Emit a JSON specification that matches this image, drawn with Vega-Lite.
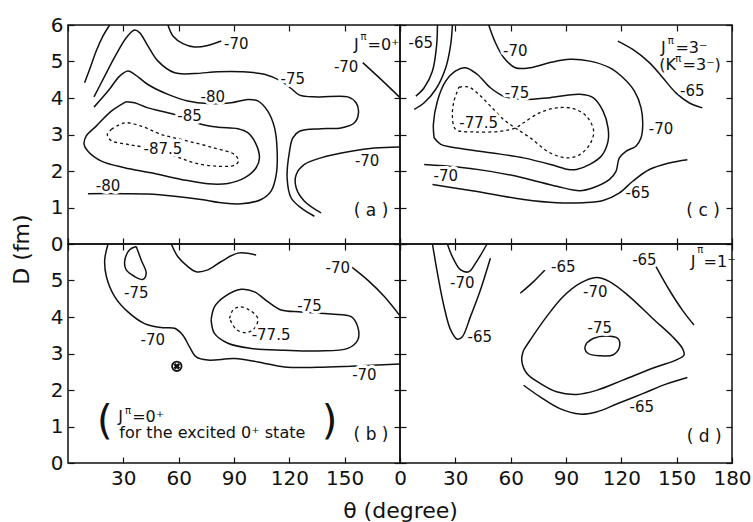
{
  "$schema": "https://vega.github.io/schema/vega-lite/v6.json",
  "padding": {"left": 9, "top": 14, "right": 5, "bottom": 0},
  "spacing": 0,
  "bounds": "flush",
  "columns": 2,
  "datasets": {
    "contours": [
      {"panel":"a","id":"a1","level":-70,"i":0,"theta":9.0,"D":4.42},
      {"panel":"a","id":"a1","level":-70,"i":1,"theta":11.7,"D":4.78},
      {"panel":"a","id":"a1","level":-70,"i":2,"theta":15.3,"D":5.29},
      {"panel":"a","id":"a1","level":-70,"i":3,"theta":19.0,"D":5.70},
      {"panel":"a","id":"a1","level":-70,"i":4,"theta":22.6,"D":6.0},
      {"panel":"a","id":"a2","level":-70,"i":0,"theta":54.2,"D":6.0},
      {"panel":"a","id":"a2","level":-70,"i":1,"theta":56.9,"D":5.70},
      {"panel":"a","id":"a2","level":-70,"i":2,"theta":62.3,"D":5.49},
      {"panel":"a","id":"a2","level":-70,"i":3,"theta":68.6,"D":5.40},
      {"panel":"a","id":"a2","level":-70,"i":4,"theta":75.8,"D":5.44},
      {"panel":"a","id":"a2","level":-70,"i":5,"theta":83.1,"D":5.56},
      {"panel":"a","id":"a3","level":-75,"i":0,"theta":14.1,"D":4.03},
      {"panel":"a","id":"a3","level":-75,"i":1,"theta":19.9,"D":4.60},
      {"panel":"a","id":"a3","level":-75,"i":2,"theta":26.2,"D":5.20},
      {"panel":"a","id":"a3","level":-75,"i":3,"theta":31.6,"D":5.65},
      {"panel":"a","id":"a3","level":-75,"i":4,"theta":36.1,"D":5.86},
      {"panel":"a","id":"a3","level":-75,"i":5,"theta":38.8,"D":5.79},
      {"panel":"a","id":"a3","level":-75,"i":6,"theta":43.3,"D":5.43},
      {"panel":"a","id":"a3","level":-75,"i":7,"theta":48.8,"D":5.01},
      {"panel":"a","id":"a3","level":-75,"i":8,"theta":57.8,"D":4.69},
      {"panel":"a","id":"a3","level":-75,"i":9,"theta":68.6,"D":4.67},
      {"panel":"a","id":"a3","level":-75,"i":10,"theta":81.3,"D":4.72},
      {"panel":"a","id":"a3","level":-75,"i":11,"theta":93.9,"D":4.72},
      {"panel":"a","id":"a3","level":-75,"i":12,"theta":106.5,"D":4.65},
      {"panel":"a","id":"a3","level":-75,"i":13,"theta":115.6,"D":4.46},
      {"panel":"a","id":"a3","level":-75,"i":14,"theta":121,"D":4.26},
      {"panel":"a","id":"a3","level":-75,"i":15,"theta":125.5,"D":4.08},
      {"panel":"a","id":"a3","level":-75,"i":16,"theta":135.4,"D":4.03},
      {"panel":"a","id":"a3","level":-75,"i":17,"theta":151.7,"D":4.03},
      {"panel":"a","id":"a3","level":-75,"i":18,"theta":156.2,"D":3.87},
      {"panel":"a","id":"a3","level":-75,"i":19,"theta":157.5,"D":3.60},
      {"panel":"a","id":"a3","level":-75,"i":20,"theta":155.3,"D":3.32},
      {"panel":"a","id":"a3","level":-75,"i":21,"theta":148.1,"D":3.18},
      {"panel":"a","id":"a3","level":-75,"i":22,"theta":137.2,"D":3.16},
      {"panel":"a","id":"a3","level":-75,"i":23,"theta":125.5,"D":3.09},
      {"panel":"a","id":"a3","level":-75,"i":24,"theta":121.9,"D":2.91},
      {"panel":"a","id":"a3","level":-75,"i":25,"theta":120.1,"D":2.54},
      {"panel":"a","id":"a3","level":-75,"i":26,"theta":118.8,"D":1.81},
      {"panel":"a","id":"a3","level":-75,"i":27,"theta":121,"D":1.26},
      {"panel":"a","id":"a3","level":-75,"i":28,"theta":126.4,"D":0.99},
      {"panel":"a","id":"a3","level":-75,"i":29,"theta":133.6,"D":0.76},
      {"panel":"a","id":"a4","level":-80,"i":0,"theta":14.1,"D":3.75},
      {"panel":"a","id":"a4","level":-80,"i":1,"theta":21.7,"D":4.19},
      {"panel":"a","id":"a4","level":-80,"i":2,"theta":28.0,"D":4.60},
      {"panel":"a","id":"a4","level":-80,"i":3,"theta":32.5,"D":4.74},
      {"panel":"a","id":"a4","level":-80,"i":4,"theta":36.1,"D":4.65},
      {"panel":"a","id":"a4","level":-80,"i":5,"theta":43.3,"D":4.37},
      {"panel":"a","id":"a4","level":-80,"i":6,"theta":54.2,"D":4.10},
      {"panel":"a","id":"a4","level":-80,"i":7,"theta":65.0,"D":3.92},
      {"panel":"a","id":"a4","level":-80,"i":8,"theta":75.8,"D":3.85},
      {"panel":"a","id":"a4","level":-80,"i":9,"theta":88.5,"D":3.87},
      {"panel":"a","id":"a4","level":-80,"i":10,"theta":97.5,"D":3.96},
      {"panel":"a","id":"a4","level":-80,"i":11,"theta":102.9,"D":3.92},
      {"panel":"a","id":"a4","level":-80,"i":12,"theta":108.3,"D":3.64},
      {"panel":"a","id":"a4","level":-80,"i":13,"theta":112,"D":3.18},
      {"panel":"a","id":"a4","level":-80,"i":14,"theta":113.4,"D":2.54},
      {"panel":"a","id":"a4","level":-80,"i":15,"theta":112.9,"D":1.90},
      {"panel":"a","id":"a4","level":-80,"i":16,"theta":110.1,"D":1.45},
      {"panel":"a","id":"a4","level":-80,"i":17,"theta":104.7,"D":1.22},
      {"panel":"a","id":"a4","level":-80,"i":18,"theta":93.9,"D":1.10},
      {"panel":"a","id":"a4","level":-80,"i":19,"theta":83.1,"D":1.13},
      {"panel":"a","id":"a4","level":-80,"i":20,"theta":72.2,"D":1.22},
      {"panel":"a","id":"a4","level":-80,"i":21,"theta":57.8,"D":1.31},
      {"panel":"a","id":"a4","level":-80,"i":22,"theta":43.3,"D":1.37},
      {"panel":"a","id":"a4","level":-80,"i":23,"theta":30.7,"D":1.38},
      {"panel":"a","id":"a4","level":-80,"i":24,"theta":10.8,"D":1.38},
      {"panel":"a","id":"a5","level":-85,"i":0,"theta":31.6,"D":3.90},
      {"panel":"a","id":"a5","level":-85,"i":1,"theta":23.5,"D":3.64},
      {"panel":"a","id":"a5","level":-85,"i":2,"theta":15.3,"D":3.23},
      {"panel":"a","id":"a5","level":-85,"i":3,"theta":9.9,"D":2.96},
      {"panel":"a","id":"a5","level":-85,"i":4,"theta":8.7,"D":2.73},
      {"panel":"a","id":"a5","level":-85,"i":5,"theta":10.8,"D":2.54},
      {"panel":"a","id":"a5","level":-85,"i":6,"theta":18.1,"D":2.27},
      {"panel":"a","id":"a5","level":-85,"i":7,"theta":30.7,"D":2.09},
      {"panel":"a","id":"a5","level":-85,"i":8,"theta":45.1,"D":1.95},
      {"panel":"a","id":"a5","level":-85,"i":9,"theta":61.4,"D":1.77},
      {"panel":"a","id":"a5","level":-85,"i":10,"theta":75.8,"D":1.65},
      {"panel":"a","id":"a5","level":-85,"i":11,"theta":86.7,"D":1.66},
      {"panel":"a","id":"a5","level":-85,"i":12,"theta":95.7,"D":1.81},
      {"panel":"a","id":"a5","level":-85,"i":13,"theta":102,"D":2.09},
      {"panel":"a","id":"a5","level":-85,"i":14,"theta":103.8,"D":2.36},
      {"panel":"a","id":"a5","level":-85,"i":15,"theta":102,"D":2.73},
      {"panel":"a","id":"a5","level":-85,"i":16,"theta":97.5,"D":3.05},
      {"panel":"a","id":"a5","level":-85,"i":17,"theta":92.1,"D":3.16},
      {"panel":"a","id":"a5","level":-85,"i":18,"theta":81.3,"D":3.20},
      {"panel":"a","id":"a5","level":-85,"i":19,"theta":72.2,"D":3.28},
      {"panel":"a","id":"a5","level":-85,"i":20,"theta":57.8,"D":3.55},
      {"panel":"a","id":"a5","level":-85,"i":21,"theta":43.3,"D":3.73},
      {"panel":"a","id":"a5","level":-85,"i":22,"theta":36.1,"D":3.87},
      {"panel":"a","id":"a5","level":-85,"i":23,"theta":31.6,"D":3.90},
      {"panel":"a","id":"a6","level":-87.5,"i":0,"theta":23.5,"D":3.14},
      {"panel":"a","id":"a6","level":-87.5,"i":1,"theta":30.7,"D":3.32},
      {"panel":"a","id":"a6","level":-87.5,"i":2,"theta":39.7,"D":3.23},
      {"panel":"a","id":"a6","level":-87.5,"i":3,"theta":50.6,"D":3.0},
      {"panel":"a","id":"a6","level":-87.5,"i":4,"theta":65,"D":2.82},
      {"panel":"a","id":"a6","level":-87.5,"i":5,"theta":79.4,"D":2.63},
      {"panel":"a","id":"a6","level":-87.5,"i":6,"theta":90.3,"D":2.45},
      {"panel":"a","id":"a6","level":-87.5,"i":7,"theta":92.4,"D":2.27},
      {"panel":"a","id":"a6","level":-87.5,"i":8,"theta":90.3,"D":2.16},
      {"panel":"a","id":"a6","level":-87.5,"i":9,"theta":81.3,"D":2.13},
      {"panel":"a","id":"a6","level":-87.5,"i":10,"theta":68.6,"D":2.22},
      {"panel":"a","id":"a6","level":-87.5,"i":11,"theta":57.8,"D":2.41},
      {"panel":"a","id":"a6","level":-87.5,"i":12,"theta":43.3,"D":2.63},
      {"panel":"a","id":"a6","level":-87.5,"i":13,"theta":32.5,"D":2.73},
      {"panel":"a","id":"a6","level":-87.5,"i":14,"theta":23.5,"D":2.83},
      {"panel":"a","id":"a6","level":-87.5,"i":15,"theta":21.3,"D":3.0},
      {"panel":"a","id":"a6","level":-87.5,"i":16,"theta":23.5,"D":3.14},
      {"panel":"a","id":"a7","level":-70,"i":0,"theta":159.8,"D":4.97},
      {"panel":"a","id":"a7","level":-70,"i":1,"theta":169.7,"D":4.51},
      {"panel":"a","id":"a7","level":-70,"i":2,"theta":180,"D":4.01},
      {"panel":"a","id":"a8","level":-70,"i":0,"theta":137.2,"D":0.85},
      {"panel":"a","id":"a8","level":-70,"i":1,"theta":128.2,"D":1.17},
      {"panel":"a","id":"a8","level":-70,"i":2,"theta":123.7,"D":1.54},
      {"panel":"a","id":"a8","level":-70,"i":3,"theta":123.7,"D":1.90},
      {"panel":"a","id":"a8","level":-70,"i":4,"theta":128.2,"D":2.18},
      {"panel":"a","id":"a8","level":-70,"i":5,"theta":137.2,"D":2.36},
      {"panel":"a","id":"a8","level":-70,"i":6,"theta":153.5,"D":2.54},
      {"panel":"a","id":"a8","level":-70,"i":7,"theta":166.1,"D":2.63},
      {"panel":"a","id":"a8","level":-70,"i":8,"theta":180,"D":2.66},

      {"panel":"c","id":"c1","level":-65,"i":0,"theta":20.3,"D":6.0},
      {"panel":"c","id":"c1","level":-65,"i":1,"theta":19.9,"D":5.47},
      {"panel":"c","id":"c1","level":-65,"i":2,"theta":17.6,"D":4.74},
      {"panel":"c","id":"c1","level":-65,"i":3,"theta":13.1,"D":4.28},
      {"panel":"c","id":"c1","level":-65,"i":4,"theta":8.6,"D":4.05},
      {"panel":"c","id":"c2","level":-70,"i":0,"theta":28.4,"D":6.0},
      {"panel":"c","id":"c2","level":-70,"i":1,"theta":27.5,"D":5.47},
      {"panel":"c","id":"c2","level":-70,"i":2,"theta":24.8,"D":4.83},
      {"panel":"c","id":"c2","level":-70,"i":3,"theta":19.4,"D":4.24},
      {"panel":"c","id":"c2","level":-70,"i":4,"theta":13.1,"D":3.87},
      {"panel":"c","id":"c2","level":-70,"i":5,"theta":7.7,"D":3.69},
      {"panel":"c","id":"c3","level":-70,"i":0,"theta":48.1,"D":6.0},
      {"panel":"c","id":"c3","level":-70,"i":1,"theta":51.7,"D":5.52},
      {"panel":"c","id":"c3","level":-70,"i":2,"theta":56.2,"D":5.11},
      {"panel":"c","id":"c3","level":-70,"i":3,"theta":62.5,"D":4.83},
      {"panel":"c","id":"c3","level":-70,"i":4,"theta":70.6,"D":4.83},
      {"panel":"c","id":"c3","level":-70,"i":5,"theta":81.3,"D":4.97},
      {"panel":"c","id":"c3","level":-70,"i":6,"theta":92.1,"D":5.06},
      {"panel":"c","id":"c3","level":-70,"i":7,"theta":102.9,"D":5.01},
      {"panel":"c","id":"c3","level":-70,"i":8,"theta":113.6,"D":4.83},
      {"panel":"c","id":"c3","level":-70,"i":9,"theta":120.8,"D":4.56},
      {"panel":"c","id":"c3","level":-70,"i":10,"theta":127.1,"D":4.19},
      {"panel":"c","id":"c3","level":-70,"i":11,"theta":130.7,"D":3.73},
      {"panel":"c","id":"c3","level":-70,"i":12,"theta":131.6,"D":3.28},
      {"panel":"c","id":"c3","level":-70,"i":13,"theta":130.7,"D":2.91},
      {"panel":"c","id":"c3","level":-70,"i":14,"theta":127.9,"D":2.68},
      {"panel":"c","id":"c3","level":-70,"i":15,"theta":122.5,"D":2.54},
      {"panel":"c","id":"c3","level":-70,"i":16,"theta":118.9,"D":2.36},
      {"panel":"c","id":"c3","level":-70,"i":17,"theta":117.1,"D":1.99},
      {"panel":"c","id":"c3","level":-70,"i":18,"theta":113.6,"D":1.77},
      {"panel":"c","id":"c3","level":-70,"i":19,"theta":104.7,"D":1.54},
      {"panel":"c","id":"c3","level":-70,"i":20,"theta":97.5,"D":1.46},
      {"panel":"c","id":"c3","level":-70,"i":21,"theta":85,"D":1.58},
      {"panel":"c","id":"c3","level":-70,"i":22,"theta":67,"D":1.81},
      {"panel":"c","id":"c3","level":-70,"i":23,"theta":49,"D":1.99},
      {"panel":"c","id":"c3","level":-70,"i":24,"theta":31.1,"D":2.11},
      {"panel":"c","id":"c3","level":-70,"i":25,"theta":13.1,"D":2.18},
      {"panel":"c","id":"c4","level":-65,"i":0,"theta":17.6,"D":1.63},
      {"panel":"c","id":"c4","level":-65,"i":1,"theta":40,"D":1.45},
      {"panel":"c","id":"c4","level":-65,"i":2,"theta":67,"D":1.22},
      {"panel":"c","id":"c4","level":-65,"i":3,"theta":85,"D":1.13},
      {"panel":"c","id":"c4","level":-65,"i":4,"theta":99.3,"D":1.13},
      {"panel":"c","id":"c4","level":-65,"i":5,"theta":110.1,"D":1.19},
      {"panel":"c","id":"c4","level":-65,"i":6,"theta":119,"D":1.40},
      {"panel":"c","id":"c4","level":-65,"i":7,"theta":126.2,"D":1.72},
      {"panel":"c","id":"c4","level":-65,"i":8,"theta":135.2,"D":2.04},
      {"panel":"c","id":"c4","level":-65,"i":9,"theta":146,"D":2.22},
      {"panel":"c","id":"c4","level":-65,"i":10,"theta":155.8,"D":2.31},
      {"panel":"c","id":"c5","level":-65,"i":0,"theta":118.1,"D":5.56},
      {"panel":"c","id":"c5","level":-65,"i":1,"theta":126.2,"D":5.33},
      {"panel":"c","id":"c5","level":-65,"i":2,"theta":135.2,"D":4.97},
      {"panel":"c","id":"c5","level":-65,"i":3,"theta":142.4,"D":4.56},
      {"panel":"c","id":"c5","level":-65,"i":4,"theta":149.6,"D":4.14},
      {"panel":"c","id":"c5","level":-65,"i":5,"theta":156.7,"D":3.87},
      {"panel":"c","id":"c5","level":-65,"i":6,"theta":163.9,"D":3.73},
      {"panel":"c","id":"c6","level":-75,"i":0,"theta":18.5,"D":2.91},
      {"panel":"c","id":"c6","level":-75,"i":1,"theta":18.1,"D":3.28},
      {"panel":"c","id":"c6","level":-75,"i":2,"theta":20.3,"D":3.92},
      {"panel":"c","id":"c6","level":-75,"i":3,"theta":24.8,"D":4.46},
      {"panel":"c","id":"c6","level":-75,"i":4,"theta":30.2,"D":4.74},
      {"panel":"c","id":"c6","level":-75,"i":5,"theta":35.5,"D":4.83},
      {"panel":"c","id":"c6","level":-75,"i":6,"theta":41.8,"D":4.65},
      {"panel":"c","id":"c6","level":-75,"i":7,"theta":49,"D":4.28},
      {"panel":"c","id":"c6","level":-75,"i":8,"theta":56.2,"D":4.05},
      {"panel":"c","id":"c6","level":-75,"i":9,"theta":66.9,"D":3.96},
      {"panel":"c","id":"c6","level":-75,"i":10,"theta":81.3,"D":4.01},
      {"panel":"c","id":"c6","level":-75,"i":11,"theta":97.5,"D":4.10},
      {"panel":"c","id":"c6","level":-75,"i":12,"theta":104.7,"D":4.01},
      {"panel":"c","id":"c6","level":-75,"i":13,"theta":110.1,"D":3.64},
      {"panel":"c","id":"c6","level":-75,"i":14,"theta":112.8,"D":3.18},
      {"panel":"c","id":"c6","level":-75,"i":15,"theta":112.8,"D":2.82},
      {"panel":"c","id":"c6","level":-75,"i":16,"theta":109.2,"D":2.41},
      {"panel":"c","id":"c6","level":-75,"i":17,"theta":102.9,"D":2.18},
      {"panel":"c","id":"c6","level":-75,"i":18,"theta":95.7,"D":2.04},
      {"panel":"c","id":"c6","level":-75,"i":19,"theta":91.2,"D":2.04},
      {"panel":"c","id":"c6","level":-75,"i":20,"theta":84.9,"D":2.13},
      {"panel":"c","id":"c6","level":-75,"i":21,"theta":67,"D":2.36},
      {"panel":"c","id":"c6","level":-75,"i":22,"theta":49,"D":2.50},
      {"panel":"c","id":"c6","level":-75,"i":23,"theta":31.1,"D":2.63},
      {"panel":"c","id":"c6","level":-75,"i":24,"theta":22.1,"D":2.73},
      {"panel":"c","id":"c6","level":-75,"i":25,"theta":18.5,"D":2.91},
      {"panel":"c","id":"c7","level":-77.5,"i":0,"theta":32,"D":4.30},
      {"panel":"c","id":"c7","level":-77.5,"i":1,"theta":37.3,"D":4.30},
      {"panel":"c","id":"c7","level":-77.5,"i":2,"theta":42.7,"D":4.10},
      {"panel":"c","id":"c7","level":-77.5,"i":3,"theta":49,"D":3.78},
      {"panel":"c","id":"c7","level":-77.5,"i":4,"theta":56.2,"D":3.41},
      {"panel":"c","id":"c7","level":-77.5,"i":5,"theta":62.5,"D":3.18},
      {"panel":"c","id":"c7","level":-77.5,"i":6,"theta":70.6,"D":2.91},
      {"panel":"c","id":"c7","level":-77.5,"i":7,"theta":81.3,"D":2.50},
      {"panel":"c","id":"c7","level":-77.5,"i":8,"theta":90.3,"D":2.36},
      {"panel":"c","id":"c7","level":-77.5,"i":9,"theta":97.5,"D":2.45},
      {"panel":"c","id":"c7","level":-77.5,"i":10,"theta":102.9,"D":2.73},
      {"panel":"c","id":"c7","level":-77.5,"i":11,"theta":105,"D":3.09},
      {"panel":"c","id":"c7","level":-77.5,"i":12,"theta":101.1,"D":3.50},
      {"panel":"c","id":"c7","level":-77.5,"i":13,"theta":93.9,"D":3.71},
      {"panel":"c","id":"c7","level":-77.5,"i":14,"theta":84.9,"D":3.73},
      {"panel":"c","id":"c7","level":-77.5,"i":15,"theta":75.9,"D":3.60},
      {"panel":"c","id":"c7","level":-77.5,"i":16,"theta":67,"D":3.32},
      {"panel":"c","id":"c7","level":-77.5,"i":17,"theta":62.5,"D":3.18},
      {"panel":"c","id":"c7","level":-77.5,"i":18,"theta":54.4,"D":3.09},
      {"panel":"c","id":"c7","level":-77.5,"i":19,"theta":40,"D":3.07},
      {"panel":"c","id":"c7","level":-77.5,"i":20,"theta":30.2,"D":3.14},
      {"panel":"c","id":"c7","level":-77.5,"i":21,"theta":28.4,"D":3.50},
      {"panel":"c","id":"c7","level":-77.5,"i":22,"theta":29.3,"D":3.92},
      {"panel":"c","id":"c7","level":-77.5,"i":23,"theta":32,"D":4.30},

      {"panel":"b","id":"b1","level":-70,"i":0,"theta":21.7,"D":6.0},
      {"panel":"b","id":"b1","level":-70,"i":1,"theta":19.9,"D":5.56},
      {"panel":"b","id":"b1","level":-70,"i":2,"theta":20.8,"D":5.11},
      {"panel":"b","id":"b1","level":-70,"i":3,"theta":25.3,"D":4.56},
      {"panel":"b","id":"b1","level":-70,"i":4,"theta":32.5,"D":4.14},
      {"panel":"b","id":"b1","level":-70,"i":5,"theta":41.5,"D":3.82},
      {"panel":"b","id":"b1","level":-70,"i":6,"theta":50.6,"D":3.71},
      {"panel":"b","id":"b1","level":-70,"i":7,"theta":57.8,"D":3.69},
      {"panel":"b","id":"b1","level":-70,"i":8,"theta":62.3,"D":3.50},
      {"panel":"b","id":"b1","level":-70,"i":9,"theta":65.9,"D":3.18},
      {"panel":"b","id":"b1","level":-70,"i":10,"theta":69.5,"D":2.91},
      {"panel":"b","id":"b1","level":-70,"i":11,"theta":75.8,"D":2.82},
      {"panel":"b","id":"b1","level":-70,"i":12,"theta":90.3,"D":2.86},
      {"panel":"b","id":"b1","level":-70,"i":13,"theta":102.9,"D":2.77},
      {"panel":"b","id":"b1","level":-70,"i":14,"theta":117.4,"D":2.63},
      {"panel":"b","id":"b1","level":-70,"i":15,"theta":135.4,"D":2.62},
      {"panel":"b","id":"b1","level":-70,"i":16,"theta":153.5,"D":2.65},
      {"panel":"b","id":"b1","level":-70,"i":17,"theta":180,"D":2.71},
      {"panel":"b","id":"b2","level":-75,"i":0,"theta":37,"D":5.93},
      {"panel":"b","id":"b2","level":-75,"i":1,"theta":39.7,"D":5.56},
      {"panel":"b","id":"b2","level":-75,"i":2,"theta":42.4,"D":5.20},
      {"panel":"b","id":"b2","level":-75,"i":3,"theta":40.6,"D":5.03},
      {"panel":"b","id":"b2","level":-75,"i":4,"theta":36.1,"D":5.11},
      {"panel":"b","id":"b2","level":-75,"i":5,"theta":31.6,"D":5.29},
      {"panel":"b","id":"b2","level":-75,"i":6,"theta":30.7,"D":5.51},
      {"panel":"b","id":"b2","level":-75,"i":7,"theta":33.4,"D":5.84},
      {"panel":"b","id":"b2","level":-75,"i":8,"theta":37,"D":5.93},
      {"panel":"b","id":"b3","level":-70,"i":0,"theta":56,"D":6.0},
      {"panel":"b","id":"b3","level":-70,"i":1,"theta":59.6,"D":5.65},
      {"panel":"b","id":"b3","level":-70,"i":2,"theta":65,"D":5.38},
      {"panel":"b","id":"b3","level":-70,"i":3,"theta":69.5,"D":5.24},
      {"panel":"b","id":"b3","level":-70,"i":4,"theta":75.8,"D":5.29},
      {"panel":"b","id":"b3","level":-70,"i":5,"theta":83.1,"D":5.52},
      {"panel":"b","id":"b3","level":-70,"i":6,"theta":92.1,"D":5.75},
      {"panel":"b","id":"b3","level":-70,"i":7,"theta":102,"D":5.70},
      {"panel":"b","id":"b4","level":-70,"i":0,"theta":153.5,"D":5.38},
      {"panel":"b","id":"b4","level":-70,"i":1,"theta":162.5,"D":5.01},
      {"panel":"b","id":"b4","level":-70,"i":2,"theta":171.5,"D":4.56},
      {"panel":"b","id":"b4","level":-70,"i":3,"theta":180,"D":4.03},
      {"panel":"b","id":"b5","level":-75,"i":0,"theta":77.6,"D":3.92},
      {"panel":"b","id":"b5","level":-75,"i":1,"theta":79.4,"D":4.28},
      {"panel":"b","id":"b5","level":-75,"i":2,"theta":84.9,"D":4.56},
      {"panel":"b","id":"b5","level":-75,"i":3,"theta":93.9,"D":4.76},
      {"panel":"b","id":"b5","level":-75,"i":4,"theta":101.1,"D":4.69},
      {"panel":"b","id":"b5","level":-75,"i":5,"theta":108.3,"D":4.42},
      {"panel":"b","id":"b5","level":-75,"i":6,"theta":115.6,"D":4.19},
      {"panel":"b","id":"b5","level":-75,"i":7,"theta":126.4,"D":4.14},
      {"panel":"b","id":"b5","level":-75,"i":8,"theta":142.6,"D":4.08},
      {"panel":"b","id":"b5","level":-75,"i":9,"theta":153.5,"D":4.01},
      {"panel":"b","id":"b5","level":-75,"i":10,"theta":157.1,"D":3.73},
      {"panel":"b","id":"b5","level":-75,"i":11,"theta":157.1,"D":3.37},
      {"panel":"b","id":"b5","level":-75,"i":12,"theta":151.7,"D":3.14},
      {"panel":"b","id":"b5","level":-75,"i":13,"theta":135.4,"D":3.07},
      {"panel":"b","id":"b5","level":-75,"i":14,"theta":117.4,"D":3.09},
      {"panel":"b","id":"b5","level":-75,"i":15,"theta":99.3,"D":3.14},
      {"panel":"b","id":"b5","level":-75,"i":16,"theta":86.7,"D":3.28},
      {"panel":"b","id":"b5","level":-75,"i":17,"theta":79.4,"D":3.55},
      {"panel":"b","id":"b5","level":-75,"i":18,"theta":77.6,"D":3.92},
      {"panel":"b","id":"b6","level":-77.5,"i":0,"theta":87.6,"D":3.96},
      {"panel":"b","id":"b6","level":-77.5,"i":1,"theta":89.4,"D":4.19},
      {"panel":"b","id":"b6","level":-77.5,"i":2,"theta":93,"D":4.28},
      {"panel":"b","id":"b6","level":-77.5,"i":3,"theta":98.4,"D":4.19},
      {"panel":"b","id":"b6","level":-77.5,"i":4,"theta":102.9,"D":3.96},
      {"panel":"b","id":"b6","level":-77.5,"i":5,"theta":101.1,"D":3.69},
      {"panel":"b","id":"b6","level":-77.5,"i":6,"theta":96.6,"D":3.57},
      {"panel":"b","id":"b6","level":-77.5,"i":7,"theta":91.2,"D":3.66},
      {"panel":"b","id":"b6","level":-77.5,"i":8,"theta":87.6,"D":3.96},

      {"panel":"d","id":"d1","level":-70,"i":0,"theta":25.7,"D":6.0},
      {"panel":"d","id":"d1","level":-70,"i":1,"theta":28.4,"D":5.65},
      {"panel":"d","id":"d1","level":-70,"i":2,"theta":32.9,"D":5.29},
      {"panel":"d","id":"d1","level":-70,"i":3,"theta":37.3,"D":5.24},
      {"panel":"d","id":"d1","level":-70,"i":4,"theta":40.9,"D":5.47},
      {"panel":"d","id":"d1","level":-70,"i":5,"theta":47.2,"D":6.0},
      {"panel":"d","id":"d2","level":-65,"i":0,"theta":17.6,"D":6.0},
      {"panel":"d","id":"d2","level":-65,"i":1,"theta":20.3,"D":5.20},
      {"panel":"d","id":"d2","level":-65,"i":2,"theta":23.9,"D":4.28},
      {"panel":"d","id":"d2","level":-65,"i":3,"theta":27.5,"D":3.64},
      {"panel":"d","id":"d2","level":-65,"i":4,"theta":31.1,"D":3.39},
      {"panel":"d","id":"d2","level":-65,"i":5,"theta":33.8,"D":3.46},
      {"panel":"d","id":"d2","level":-65,"i":6,"theta":38.2,"D":4.01},
      {"panel":"d","id":"d2","level":-65,"i":7,"theta":43.6,"D":4.74},
      {"panel":"d","id":"d2","level":-65,"i":8,"theta":49,"D":5.61},
      {"panel":"d","id":"d3","level":-65,"i":0,"theta":65.2,"D":4.65},
      {"panel":"d","id":"d3","level":-65,"i":1,"theta":72.4,"D":4.97},
      {"panel":"d","id":"d3","level":-65,"i":2,"theta":78.6,"D":5.29},
      {"panel":"d","id":"d4","level":-65,"i":0,"theta":138.8,"D":5.38},
      {"panel":"d","id":"d4","level":-65,"i":1,"theta":146,"D":4.74},
      {"panel":"d","id":"d4","level":-65,"i":2,"theta":153.1,"D":4.19},
      {"panel":"d","id":"d4","level":-65,"i":3,"theta":159.4,"D":3.78},
      {"panel":"d","id":"d5","level":-70,"i":0,"theta":67,"D":3.09},
      {"panel":"d","id":"d5","level":-70,"i":1,"theta":70.6,"D":3.37},
      {"panel":"d","id":"d5","level":-70,"i":2,"theta":79.5,"D":4.01},
      {"panel":"d","id":"d5","level":-70,"i":3,"theta":88.5,"D":4.56},
      {"panel":"d","id":"d5","level":-70,"i":4,"theta":97.5,"D":4.92},
      {"panel":"d","id":"d5","level":-70,"i":5,"theta":106.5,"D":5.08},
      {"panel":"d","id":"d5","level":-70,"i":6,"theta":113.6,"D":4.97},
      {"panel":"d","id":"d5","level":-70,"i":7,"theta":124.4,"D":4.56},
      {"panel":"d","id":"d5","level":-70,"i":8,"theta":137,"D":3.96},
      {"panel":"d","id":"d5","level":-70,"i":9,"theta":147.8,"D":3.46},
      {"panel":"d","id":"d5","level":-70,"i":10,"theta":153.1,"D":3.14},
      {"panel":"d","id":"d5","level":-70,"i":11,"theta":154,"D":2.96},
      {"panel":"d","id":"d5","level":-70,"i":12,"theta":149.6,"D":2.82},
      {"panel":"d","id":"d5","level":-70,"i":13,"theta":138.8,"D":2.63},
      {"panel":"d","id":"d5","level":-70,"i":14,"theta":120.8,"D":2.27},
      {"panel":"d","id":"d5","level":-70,"i":15,"theta":106.5,"D":1.99},
      {"panel":"d","id":"d5","level":-70,"i":16,"theta":95.7,"D":1.88},
      {"panel":"d","id":"d5","level":-70,"i":17,"theta":84.9,"D":1.95},
      {"panel":"d","id":"d5","level":-70,"i":18,"theta":76,"D":2.18},
      {"panel":"d","id":"d5","level":-70,"i":19,"theta":68.8,"D":2.45},
      {"panel":"d","id":"d5","level":-70,"i":20,"theta":66,"D":2.82},
      {"panel":"d","id":"d5","level":-70,"i":21,"theta":67,"D":3.09},
      {"panel":"d","id":"d6","level":-75,"i":0,"theta":101.1,"D":3.28},
      {"panel":"d","id":"d6","level":-75,"i":1,"theta":104.7,"D":3.41},
      {"panel":"d","id":"d6","level":-75,"i":2,"theta":111.8,"D":3.48},
      {"panel":"d","id":"d6","level":-75,"i":3,"theta":118.1,"D":3.41},
      {"panel":"d","id":"d6","level":-75,"i":4,"theta":119,"D":3.18},
      {"panel":"d","id":"d6","level":-75,"i":5,"theta":115.4,"D":2.96},
      {"panel":"d","id":"d6","level":-75,"i":6,"theta":108.3,"D":2.94},
      {"panel":"d","id":"d6","level":-75,"i":7,"theta":102,"D":3.0},
      {"panel":"d","id":"d6","level":-75,"i":8,"theta":100.2,"D":3.14},
      {"panel":"d","id":"d6","level":-75,"i":9,"theta":101.1,"D":3.28},
      {"panel":"d","id":"d7","level":-65,"i":0,"theta":67,"D":2.13},
      {"panel":"d","id":"d7","level":-65,"i":1,"theta":76,"D":1.81},
      {"panel":"d","id":"d7","level":-65,"i":2,"theta":86.7,"D":1.49},
      {"panel":"d","id":"d7","level":-65,"i":3,"theta":97.5,"D":1.34},
      {"panel":"d","id":"d7","level":-65,"i":4,"theta":106.5,"D":1.40},
      {"panel":"d","id":"d7","level":-65,"i":5,"theta":118.1,"D":1.63},
      {"panel":"d","id":"d7","level":-65,"i":6,"theta":131.6,"D":1.90},
      {"panel":"d","id":"d7","level":-65,"i":7,"theta":144.2,"D":2.16},
      {"panel":"d","id":"d7","level":-65,"i":8,"theta":155.8,"D":2.34}
    ],
    "levels": [
      {"panel":"a","level":-70,"theta":91.2,"D":5.47},
      {"panel":"a","level":-75,"theta":121.9,"D":4.51},
      {"panel":"a","level":-80,"theta":78.5,"D":4.03},
      {"panel":"a","level":-85,"theta":65.9,"D":3.50},
      {"panel":"a","level":-87.5,"theta":51.5,"D":2.59},
      {"panel":"a","level":-80,"theta":21.7,"D":1.58},
      {"panel":"a","level":-70,"theta":150.8,"D":4.86},
      {"panel":"a","level":-70,"theta":162.2,"D":2.27},
      {"panel":"c","level":-65,"theta":11.3,"D":5.52},
      {"panel":"c","level":-70,"theta":62.5,"D":5.29},
      {"panel":"c","level":-75,"theta":63.4,"D":4.14},
      {"panel":"c","level":-77.5,"theta":42.7,"D":3.32},
      {"panel":"c","level":-70,"theta":141.5,"D":3.14},
      {"panel":"c","level":-65,"theta":158.5,"D":4.19},
      {"panel":"c","level":-70,"theta":24.8,"D":1.86},
      {"panel":"c","level":-65,"theta":128.9,"D":1.40},
      {"panel":"b","level":-75,"theta":37,"D":4.65},
      {"panel":"b","level":-70,"theta":46,"D":3.37},
      {"panel":"b","level":-75,"theta":130.9,"D":4.30},
      {"panel":"b","level":-77.5,"theta":110.1,"D":3.50},
      {"panel":"b","level":-70,"theta":146.3,"D":5.35},
      {"panel":"b","level":-70,"theta":160.7,"D":2.41},
      {"panel":"d","level":-70,"theta":33.8,"D":4.92},
      {"panel":"d","level":-65,"theta":43.3,"D":3.44},
      {"panel":"d","level":-65,"theta":88.5,"D":5.38},
      {"panel":"d","level":-65,"theta":132.5,"D":5.56},
      {"panel":"d","level":-70,"theta":105.9,"D":4.69},
      {"panel":"d","level":-75,"theta":108.3,"D":3.71},
      {"panel":"d","level":-65,"theta":131.1,"D":1.54}
    ],
    "notes": [
      {"panel":"a","part":"main","text":"J","theta":155,"D":5.31},
      {"panel":"a","part":"sup","text":"π","theta":158.6,"D":5.59},
      {"panel":"a","part":"main","text":"=0⁺","theta":162.4,"D":5.31},
      {"panel":"c","part":"main","text":"J","theta":141.5,"D":5.22},
      {"panel":"c","part":"sup","text":"π","theta":145.2,"D":5.48},
      {"panel":"c","part":"main","text":"=3⁻","theta":149.3,"D":5.22},
      {"panel":"c","part":"main","text":"(K","theta":140.6,"D":4.77},
      {"panel":"c","part":"sup","text":"π","theta":149.2,"D":4.99},
      {"panel":"c","part":"main","text":"=3⁻)","theta":153.2,"D":4.77},
      {"panel":"d","part":"main","text":"J","theta":157.7,"D":5.36},
      {"panel":"d","part":"sup","text":"π","theta":161.2,"D":5.75},
      {"panel":"d","part":"main","text":"=1⁻","theta":164.6,"D":5.36},
      {"panel":"b","part":"paren","text":"(","theta":19.9,"D":1.13},
      {"panel":"b","part":"paren","text":")","theta":141.8,"D":1.13},
      {"panel":"b","part":"main","text":"J","theta":27.3,"D":1.12},
      {"panel":"b","part":"sup","text":"π","theta":30.9,"D":1.33},
      {"panel":"b","part":"main","text":"=0⁺","theta":34.8,"D":1.12},
      {"panel":"b","part":"main","text":"for the excited 0⁺ state","theta":27.8,"D":0.68}
    ],
    "tags": [
      {"panel":"a","tag":"( a )","theta":164.3,"D":0.9},
      {"panel":"c","tag":"( c )","theta":164.3,"D":0.9},
      {"panel":"b","tag":"( b )","theta":164.3,"D":0.76},
      {"panel":"d","tag":"( d )","theta":164.9,"D":0.7}
    ],
    "minimum": [
      {"theta":59,"D":2.65}
    ]
  },
  "concat": [
    {
      "width": 332, "height": 219,
      "resolve": {"axis": {"x": "independent", "y": "independent"}},
      "layer": [
        {
          "encoding": {
            "x": {"field": "theta", "type": "quantitative", "scale": {"domain": [0, 180], "nice": false}, "axis": {"values": [0, 30, 60, 90, 120, 150, 180], "labels": false, "title": null}},
            "y": {"field": "D", "type": "quantitative", "scale": {"domain": [0, 6], "nice": false}, "axis": {"values": [0, 1, 2, 3, 4, 5, 6], "title": "D (fm)", "titleX": -40, "titleY": 224, "titleAlign": "center", "titleBaseline": "alphabetic", "titleAngle": -90}}
          },
          "layer": [
            {"data": {"name": "contours"}, "transform": [{"filter": "datum.panel == 'a' && datum.level % 5 == 0"}], "mark": {"type": "line", "interpolate": "catmull-rom", "stroke": "#111", "strokeWidth": 1.5}, "encoding": {"detail": {"field": "id"}, "order": {"field": "i", "type": "quantitative"}}},
            {"data": {"name": "contours"}, "transform": [{"filter": "datum.panel == 'a' && datum.level % 5 != 0"}], "mark": {"type": "line", "interpolate": "catmull-rom", "stroke": "#111", "strokeWidth": 1.3, "strokeDash": [3, 3]}, "encoding": {"detail": {"field": "id"}, "order": {"field": "i", "type": "quantitative"}}},
            {"data": {"name": "levels"}, "transform": [{"filter": "datum.panel == 'a'"}], "mark": {"type": "text", "fontSize": 15, "fill": "white", "stroke": "white", "strokeWidth": 6, "strokeJoin": "round"}, "encoding": {"text": {"field": "level", "type": "quantitative", "format": ".1~f"}}},
            {"data": {"name": "levels"}, "transform": [{"filter": "datum.panel == 'a'"}], "mark": {"type": "text", "fontSize": 15, "fill": "#111"}, "encoding": {"text": {"field": "level", "type": "quantitative", "format": ".1~f"}}},
            {"data": {"name": "notes"}, "transform": [{"filter": "datum.panel == 'a' && datum.part == 'main'"}], "mark": {"type": "text", "fontSize": 16, "align": "left", "baseline": "alphabetic", "fill": "#111"}, "encoding": {"text": {"field": "text"}}},
            {"data": {"name": "notes"}, "transform": [{"filter": "datum.panel == 'a' && datum.part == 'sup'"}], "mark": {"type": "text", "fontSize": 10, "align": "left", "baseline": "alphabetic", "fill": "#111"}, "encoding": {"text": {"field": "text"}}}
          ]
        },
        {
          "data": {"name": "tags"}, "transform": [{"filter": "datum.panel == 'a'"}],
          "mark": {"type": "text", "fontSize": 17, "fill": "#111"},
          "encoding": {
            "x": {"field": "theta", "type": "quantitative", "axis": {"orient": "top", "values": [0, 30, 60, 90, 120, 150, 180], "labels": false, "title": null}},
            "y": {"field": "D", "type": "quantitative", "axis": {"orient": "right", "values": [0, 1, 2, 3, 4, 5, 6], "labels": false, "title": null}},
            "text": {"field": "tag"}
          }
        }
      ]
    },
    {
      "width": 332, "height": 219,
      "resolve": {"axis": {"x": "independent", "y": "independent"}},
      "layer": [
        {
          "encoding": {
            "x": {"field": "theta", "type": "quantitative", "scale": {"domain": [0, 180], "nice": false}, "axis": {"values": [0, 30, 60, 90, 120, 150, 180], "labels": false, "title": null}},
            "y": {"field": "D", "type": "quantitative", "scale": {"domain": [0, 6], "nice": false}, "axis": {"values": [0, 1, 2, 3, 4, 5, 6], "labels": false, "title": null}}
          },
          "layer": [
            {"data": {"name": "contours"}, "transform": [{"filter": "datum.panel == 'c' && datum.level % 5 == 0"}], "mark": {"type": "line", "interpolate": "catmull-rom", "stroke": "#111", "strokeWidth": 1.5}, "encoding": {"detail": {"field": "id"}, "order": {"field": "i", "type": "quantitative"}}},
            {"data": {"name": "contours"}, "transform": [{"filter": "datum.panel == 'c' && datum.level % 5 != 0"}], "mark": {"type": "line", "interpolate": "catmull-rom", "stroke": "#111", "strokeWidth": 1.3, "strokeDash": [3, 3]}, "encoding": {"detail": {"field": "id"}, "order": {"field": "i", "type": "quantitative"}}},
            {"data": {"name": "levels"}, "transform": [{"filter": "datum.panel == 'c'"}], "mark": {"type": "text", "fontSize": 15, "fill": "white", "stroke": "white", "strokeWidth": 6, "strokeJoin": "round"}, "encoding": {"text": {"field": "level", "type": "quantitative", "format": ".1~f"}}},
            {"data": {"name": "levels"}, "transform": [{"filter": "datum.panel == 'c'"}], "mark": {"type": "text", "fontSize": 15, "fill": "#111"}, "encoding": {"text": {"field": "level", "type": "quantitative", "format": ".1~f"}}},
            {"data": {"name": "notes"}, "transform": [{"filter": "datum.panel == 'c' && datum.part == 'main'"}], "mark": {"type": "text", "fontSize": 16, "align": "left", "baseline": "alphabetic", "fill": "#111"}, "encoding": {"text": {"field": "text"}}},
            {"data": {"name": "notes"}, "transform": [{"filter": "datum.panel == 'c' && datum.part == 'sup'"}], "mark": {"type": "text", "fontSize": 10, "align": "left", "baseline": "alphabetic", "fill": "#111"}, "encoding": {"text": {"field": "text"}}}
          ]
        },
        {
          "data": {"name": "tags"}, "transform": [{"filter": "datum.panel == 'c'"}],
          "mark": {"type": "text", "fontSize": 17, "fill": "#111"},
          "encoding": {
            "x": {"field": "theta", "type": "quantitative", "axis": {"orient": "top", "values": [0, 30, 60, 90, 120, 150, 180], "labels": false, "title": null}},
            "y": {"field": "D", "type": "quantitative", "axis": {"orient": "right", "values": [0, 1, 2, 3, 4, 5, 6], "labels": false, "title": null}},
            "text": {"field": "tag"}
          }
        }
      ]
    },
    {
      "width": 332, "height": 219,
      "resolve": {"axis": {"x": "independent", "y": "independent"}},
      "layer": [
        {
          "encoding": {
            "x": {"field": "theta", "type": "quantitative", "scale": {"domain": [0, 180], "nice": false}, "axis": {"values": [30, 60, 90, 120, 150], "title": "θ (degree)", "titleX": 332, "titleY": 54, "titleAlign": "center", "titleBaseline": "alphabetic"}},
            "y": {"field": "D", "type": "quantitative", "scale": {"domain": [0, 6], "nice": false}, "axis": {"values": [0, 1, 2, 3, 4, 5], "title": null}}
          },
          "layer": [
            {"data": {"name": "contours"}, "transform": [{"filter": "datum.panel == 'b' && datum.level % 5 == 0"}], "mark": {"type": "line", "interpolate": "catmull-rom", "stroke": "#111", "strokeWidth": 1.5}, "encoding": {"detail": {"field": "id"}, "order": {"field": "i", "type": "quantitative"}}},
            {"data": {"name": "contours"}, "transform": [{"filter": "datum.panel == 'b' && datum.level % 5 != 0"}], "mark": {"type": "line", "interpolate": "catmull-rom", "stroke": "#111", "strokeWidth": 1.3, "strokeDash": [3, 3]}, "encoding": {"detail": {"field": "id"}, "order": {"field": "i", "type": "quantitative"}}},
            {"data": {"name": "levels"}, "transform": [{"filter": "datum.panel == 'b'"}], "mark": {"type": "text", "fontSize": 15, "fill": "white", "stroke": "white", "strokeWidth": 6, "strokeJoin": "round"}, "encoding": {"text": {"field": "level", "type": "quantitative", "format": ".1~f"}}},
            {"data": {"name": "levels"}, "transform": [{"filter": "datum.panel == 'b'"}], "mark": {"type": "text", "fontSize": 15, "fill": "#111"}, "encoding": {"text": {"field": "level", "type": "quantitative", "format": ".1~f"}}},
            {"data": {"name": "notes"}, "transform": [{"filter": "datum.panel == 'b' && datum.part == 'main'"}], "mark": {"type": "text", "fontSize": 16, "align": "left", "baseline": "alphabetic", "fill": "#111"}, "encoding": {"text": {"field": "text"}}},
            {"data": {"name": "notes"}, "transform": [{"filter": "datum.panel == 'b' && datum.part == 'sup'"}], "mark": {"type": "text", "fontSize": 10, "align": "left", "baseline": "alphabetic", "fill": "#111"}, "encoding": {"text": {"field": "text"}}},
            {"data": {"name": "notes"}, "transform": [{"filter": "datum.panel == 'b' && datum.part == 'paren'"}], "mark": {"type": "text", "fontSize": 40, "align": "center", "baseline": "middle", "fill": "#111"}, "encoding": {"text": {"field": "text"}}},
            {"data": {"name": "minimum"}, "mark": {"type": "point", "shape": "circle", "size": 90, "filled": false, "stroke": "#111", "strokeWidth": 1.8, "opacity": 1}, "encoding": {}},
            {"data": {"name": "minimum"}, "mark": {"type": "point", "shape": "cross", "angle": 45, "size": 45, "filled": true, "fill": "#111", "opacity": 1}, "encoding": {}}
          ]
        },
        {
          "data": {"name": "tags"}, "transform": [{"filter": "datum.panel == 'b'"}],
          "mark": {"type": "text", "fontSize": 17, "fill": "#111"},
          "encoding": {
            "x": {"field": "theta", "type": "quantitative", "axis": {"orient": "top", "values": [0, 30, 60, 90, 120, 150, 180], "labels": false, "title": null}},
            "y": {"field": "D", "type": "quantitative", "axis": {"orient": "right", "values": [0, 1, 2, 3, 4, 5, 6], "labels": false, "title": null}},
            "text": {"field": "tag"}
          }
        }
      ]
    },
    {
      "width": 332, "height": 219,
      "resolve": {"axis": {"x": "independent", "y": "independent"}},
      "layer": [
        {
          "encoding": {
            "x": {"field": "theta", "type": "quantitative", "scale": {"domain": [0, 180], "nice": false}, "axis": {"values": [0, 30, 60, 90, 120, 150, 180], "title": null}},
            "y": {"field": "D", "type": "quantitative", "scale": {"domain": [0, 6], "nice": false}, "axis": {"values": [0, 1, 2, 3, 4, 5, 6], "labels": false, "title": null}}
          },
          "layer": [
            {"data": {"name": "contours"}, "transform": [{"filter": "datum.panel == 'd' && datum.level % 5 == 0"}], "mark": {"type": "line", "interpolate": "catmull-rom", "stroke": "#111", "strokeWidth": 1.5}, "encoding": {"detail": {"field": "id"}, "order": {"field": "i", "type": "quantitative"}}},
            {"data": {"name": "levels"}, "transform": [{"filter": "datum.panel == 'd'"}], "mark": {"type": "text", "fontSize": 15, "fill": "white", "stroke": "white", "strokeWidth": 6, "strokeJoin": "round"}, "encoding": {"text": {"field": "level", "type": "quantitative", "format": ".1~f"}}},
            {"data": {"name": "levels"}, "transform": [{"filter": "datum.panel == 'd'"}], "mark": {"type": "text", "fontSize": 15, "fill": "#111"}, "encoding": {"text": {"field": "level", "type": "quantitative", "format": ".1~f"}}},
            {"data": {"name": "notes"}, "transform": [{"filter": "datum.panel == 'd' && datum.part == 'main'"}], "mark": {"type": "text", "fontSize": 16, "align": "left", "baseline": "alphabetic", "fill": "#111"}, "encoding": {"text": {"field": "text"}}},
            {"data": {"name": "notes"}, "transform": [{"filter": "datum.panel == 'd' && datum.part == 'sup'"}], "mark": {"type": "text", "fontSize": 10, "align": "left", "baseline": "alphabetic", "fill": "#111"}, "encoding": {"text": {"field": "text"}}}
          ]
        },
        {
          "data": {"name": "tags"}, "transform": [{"filter": "datum.panel == 'd'"}],
          "mark": {"type": "text", "fontSize": 17, "fill": "#111"},
          "encoding": {
            "x": {"field": "theta", "type": "quantitative", "axis": {"orient": "top", "values": [0, 30, 60, 90, 120, 150, 180], "labels": false, "title": null}},
            "y": {"field": "D", "type": "quantitative", "axis": {"orient": "right", "values": [0, 1, 2, 3, 4, 5, 6], "labels": false, "title": null}},
            "text": {"field": "tag"}
          }
        }
      ]
    }
  ],
  "config": {
    "font": "DejaVu Sans",
    "background": "white",
    "locale": {"number": {"decimal": ".", "thousands": ",", "grouping": [3], "currency": ["$", ""], "minus": "-"}},
    "view": {"stroke": "#111", "strokeWidth": 1.5},
    "axis": {
      "domain": false, "grid": false,
      "tickSize": -6, "tickWidth": 1.2, "tickColor": "#111",
      "labelFont": "DejaVu Sans", "labelFontSize": 20, "labelColor": "#111", "labelPadding": 11,
      "labelFlush": false, "labelOverlap": false, "labelBound": false,
      "titleFont": "DejaVu Sans", "titleFontSize": 22, "titleFontWeight": "normal", "titleColor": "#111"
    },
    "text": {"font": "DejaVu Sans"}
  }
}
